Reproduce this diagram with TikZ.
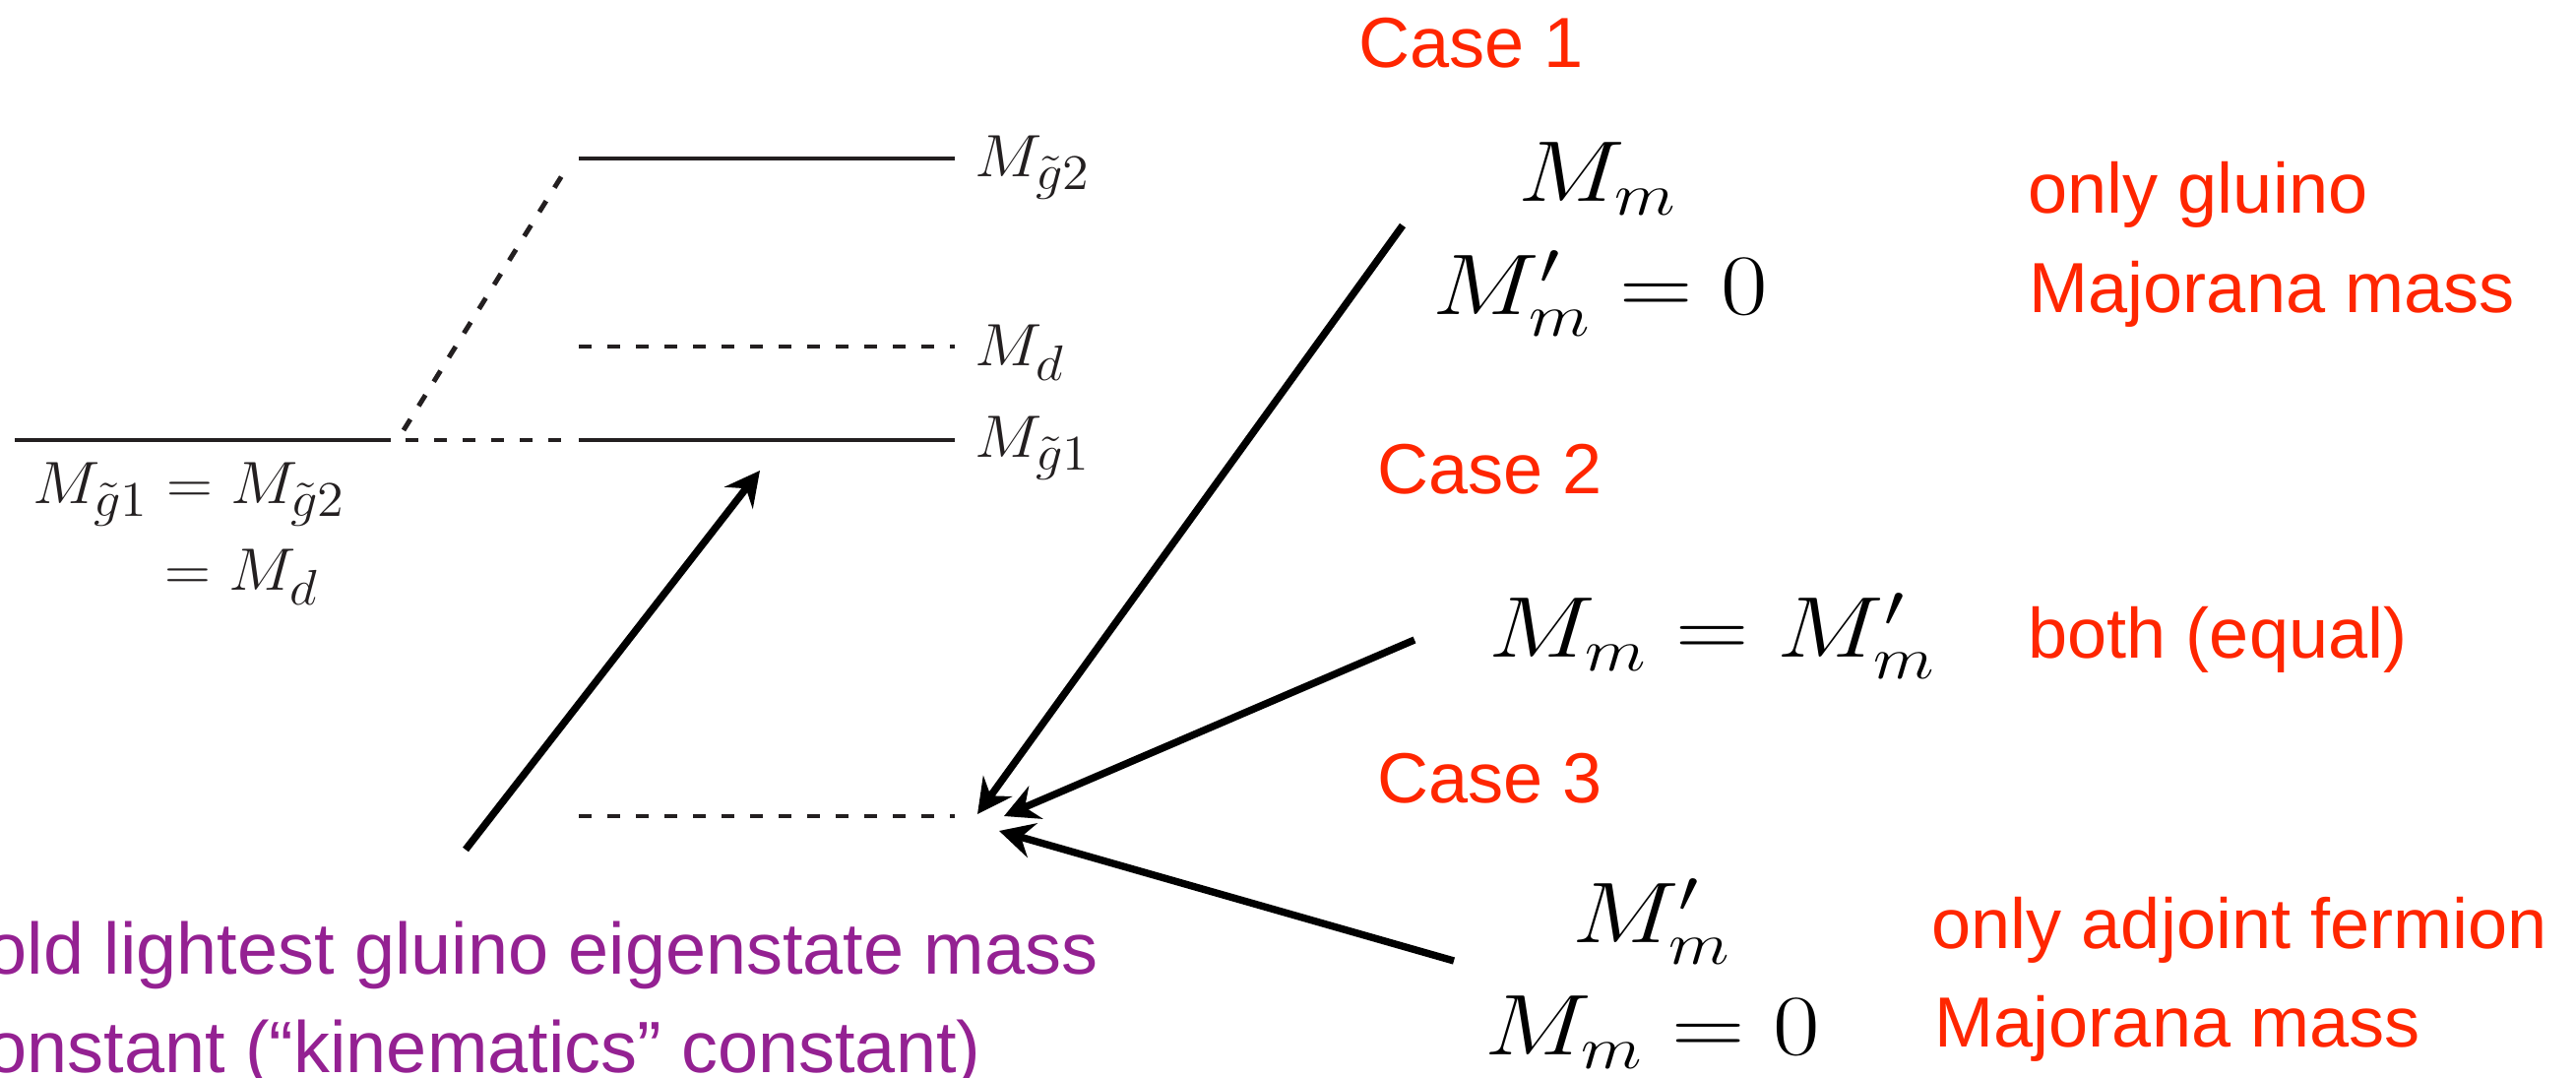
\documentclass[tikz,border=0pt]{standalone}
\usepackage{amsmath}
\usepackage{fontspec}
\newfontfamily\sfnote{Liberation Sans}
\usepackage{xcolor}
\definecolor{cRed}{HTML}{FF2600}
\definecolor{cPurple}{HTML}{942192}
\definecolor{cLine}{HTML}{231F20}
\usepackage{tikz}
\usetikzlibrary{arrows.meta}
\tikzset{
  level-solid/.style={line width=1.4pt,draw=cLine},
  level-dash/.style={line width=1.4pt,draw=cLine,dash pattern=on 1.3mm off 1.6mm},
  arrow/.style={-{Stealth[length=3.5mm,width=3.6mm,inset=1.2mm]},line width=2.1pt,draw=black},
  mass-label/.style={anchor=base west,inner sep=0pt,text=cLine,
    font=\fontsize{19}{23}\selectfont,xscale=1.07,transform shape},
  cond-label/.style={anchor=base,inner sep=0pt,
    font=\fontsize{27}{32}\selectfont,xscale=1.18,transform shape},
  case-label/.style={anchor=base west,inner sep=0pt,text=cRed,font=\sfnote\fontsize{20.5}{25}\selectfont},
  note-label/.style={anchor=base west,inner sep=0pt,text=cPurple,font=\sfnote\fontsize{21}{25}\selectfont},
}

\begin{document}
\begin{tikzpicture}[x=0.01cm,y=-0.01cm]
  \useasboundingbox (0,0) rectangle (2617,1095);
  \clip (0,0) rectangle (2617,1095);

  % levels
  \coordinate (deg-l) at (15,447);   \coordinate (deg-r) at (397,447);
  \coordinate (split-l) at (412,447); \coordinate (split-r) at (573,447);
  \coordinate (g1-l) at (588,447);   \coordinate (g1-r) at (970,447);
  \coordinate (g2-l) at (588,161);   \coordinate (g2-r) at (970,161);
  \coordinate (d-l) at (588,352);    \coordinate (d-r) at (970,352);
  \coordinate (low-l) at (588,829);  \coordinate (low-r) at (970,829);
  \coordinate (up-from) at (410,437); \coordinate (up-to) at (573,175);

  \draw[level-solid] (deg-l) -- (deg-r);
  \draw[level-dash]  (split-l) -- (split-r);
  \draw[level-dash]  (up-from) -- (up-to);
  \draw[level-solid] (g1-l) -- (g1-r);
  \draw[level-solid] (g2-l) -- (g2-r);
  \draw[level-dash]  (d-l) -- (d-r);
  \draw[level-dash]  (low-l) -- (low-r);

  \node[mass-label] (lab-g2) at (990,180) {$M_{\tilde g2}$};
  \node[mass-label] (lab-d)  at (990,372) {$M_d$};
  \node[mass-label] (lab-g1) at (990,465) {$M_{\tilde g1}$};
  \node[mass-label] (deg-1)  at (33,512)  {$M_{\tilde g1}=M_{\tilde g2}$};
  \node[mass-label] (deg-2)  at (167,600) {$=M_d$};

  % cases
  \node[case-label] (case1) at (1380,69)  {Case 1};
  \node[case-label] (case2) at (1399,502) {Case 2};
  \node[case-label] (case3) at (1399,816) {Case 3};

  \node[cond-label] (c1-a) at (1623,205) {$M_m$};
  \node[cond-label] (c1-b) at (1626,320) {$M'_m=0$};
  \node[cond-label,anchor=base west] (c2) at (1512,668) {$M_m=M'_m$};
  \node[cond-label] (c3-a) at (1678,958) {$M'_m$};
  \node[cond-label] (c3-b) at (1679,1072) {$M_m=0$};

  \node[case-label] (c1-n1) at (2060,217)  {only gluino};
  \node[case-label] (c1-n2) at (2061,318)  {Majorana mass};
  \node[case-label] (c2-n1) at (2060,669)  {both (equal)};
  \node[case-label] (c3-n1) at (1962,964)  {only adjoint fermion};
  \node[case-label] (c3-n2) at (1965,1064) {Majorana mass};

  \node[note-label] (note1) at (-14,990)  {old lightest gluino eigenstate mass};
  \node[note-label] (note2) at (-14,1090) {onstant (“kinematics” constant)};

  % arrows
  \coordinate (a-from) at (473,863);  \coordinate (a-to) at (772,478);
  \coordinate (b-from) at (1425,229); \coordinate (b-to) at (993,827);
  \coordinate (c-from) at (1437,650); \coordinate (c-to) at (1020,829);
  \coordinate (d-from) at (1477,976); \coordinate (d-to) at (1015,844);
  \draw[arrow] (a-from) -- (a-to);
  \draw[arrow] (b-from) -- (b-to);
  \draw[arrow] (c-from) -- (c-to);
  \draw[arrow] (d-from) -- (d-to);
\end{tikzpicture}
\end{document}
